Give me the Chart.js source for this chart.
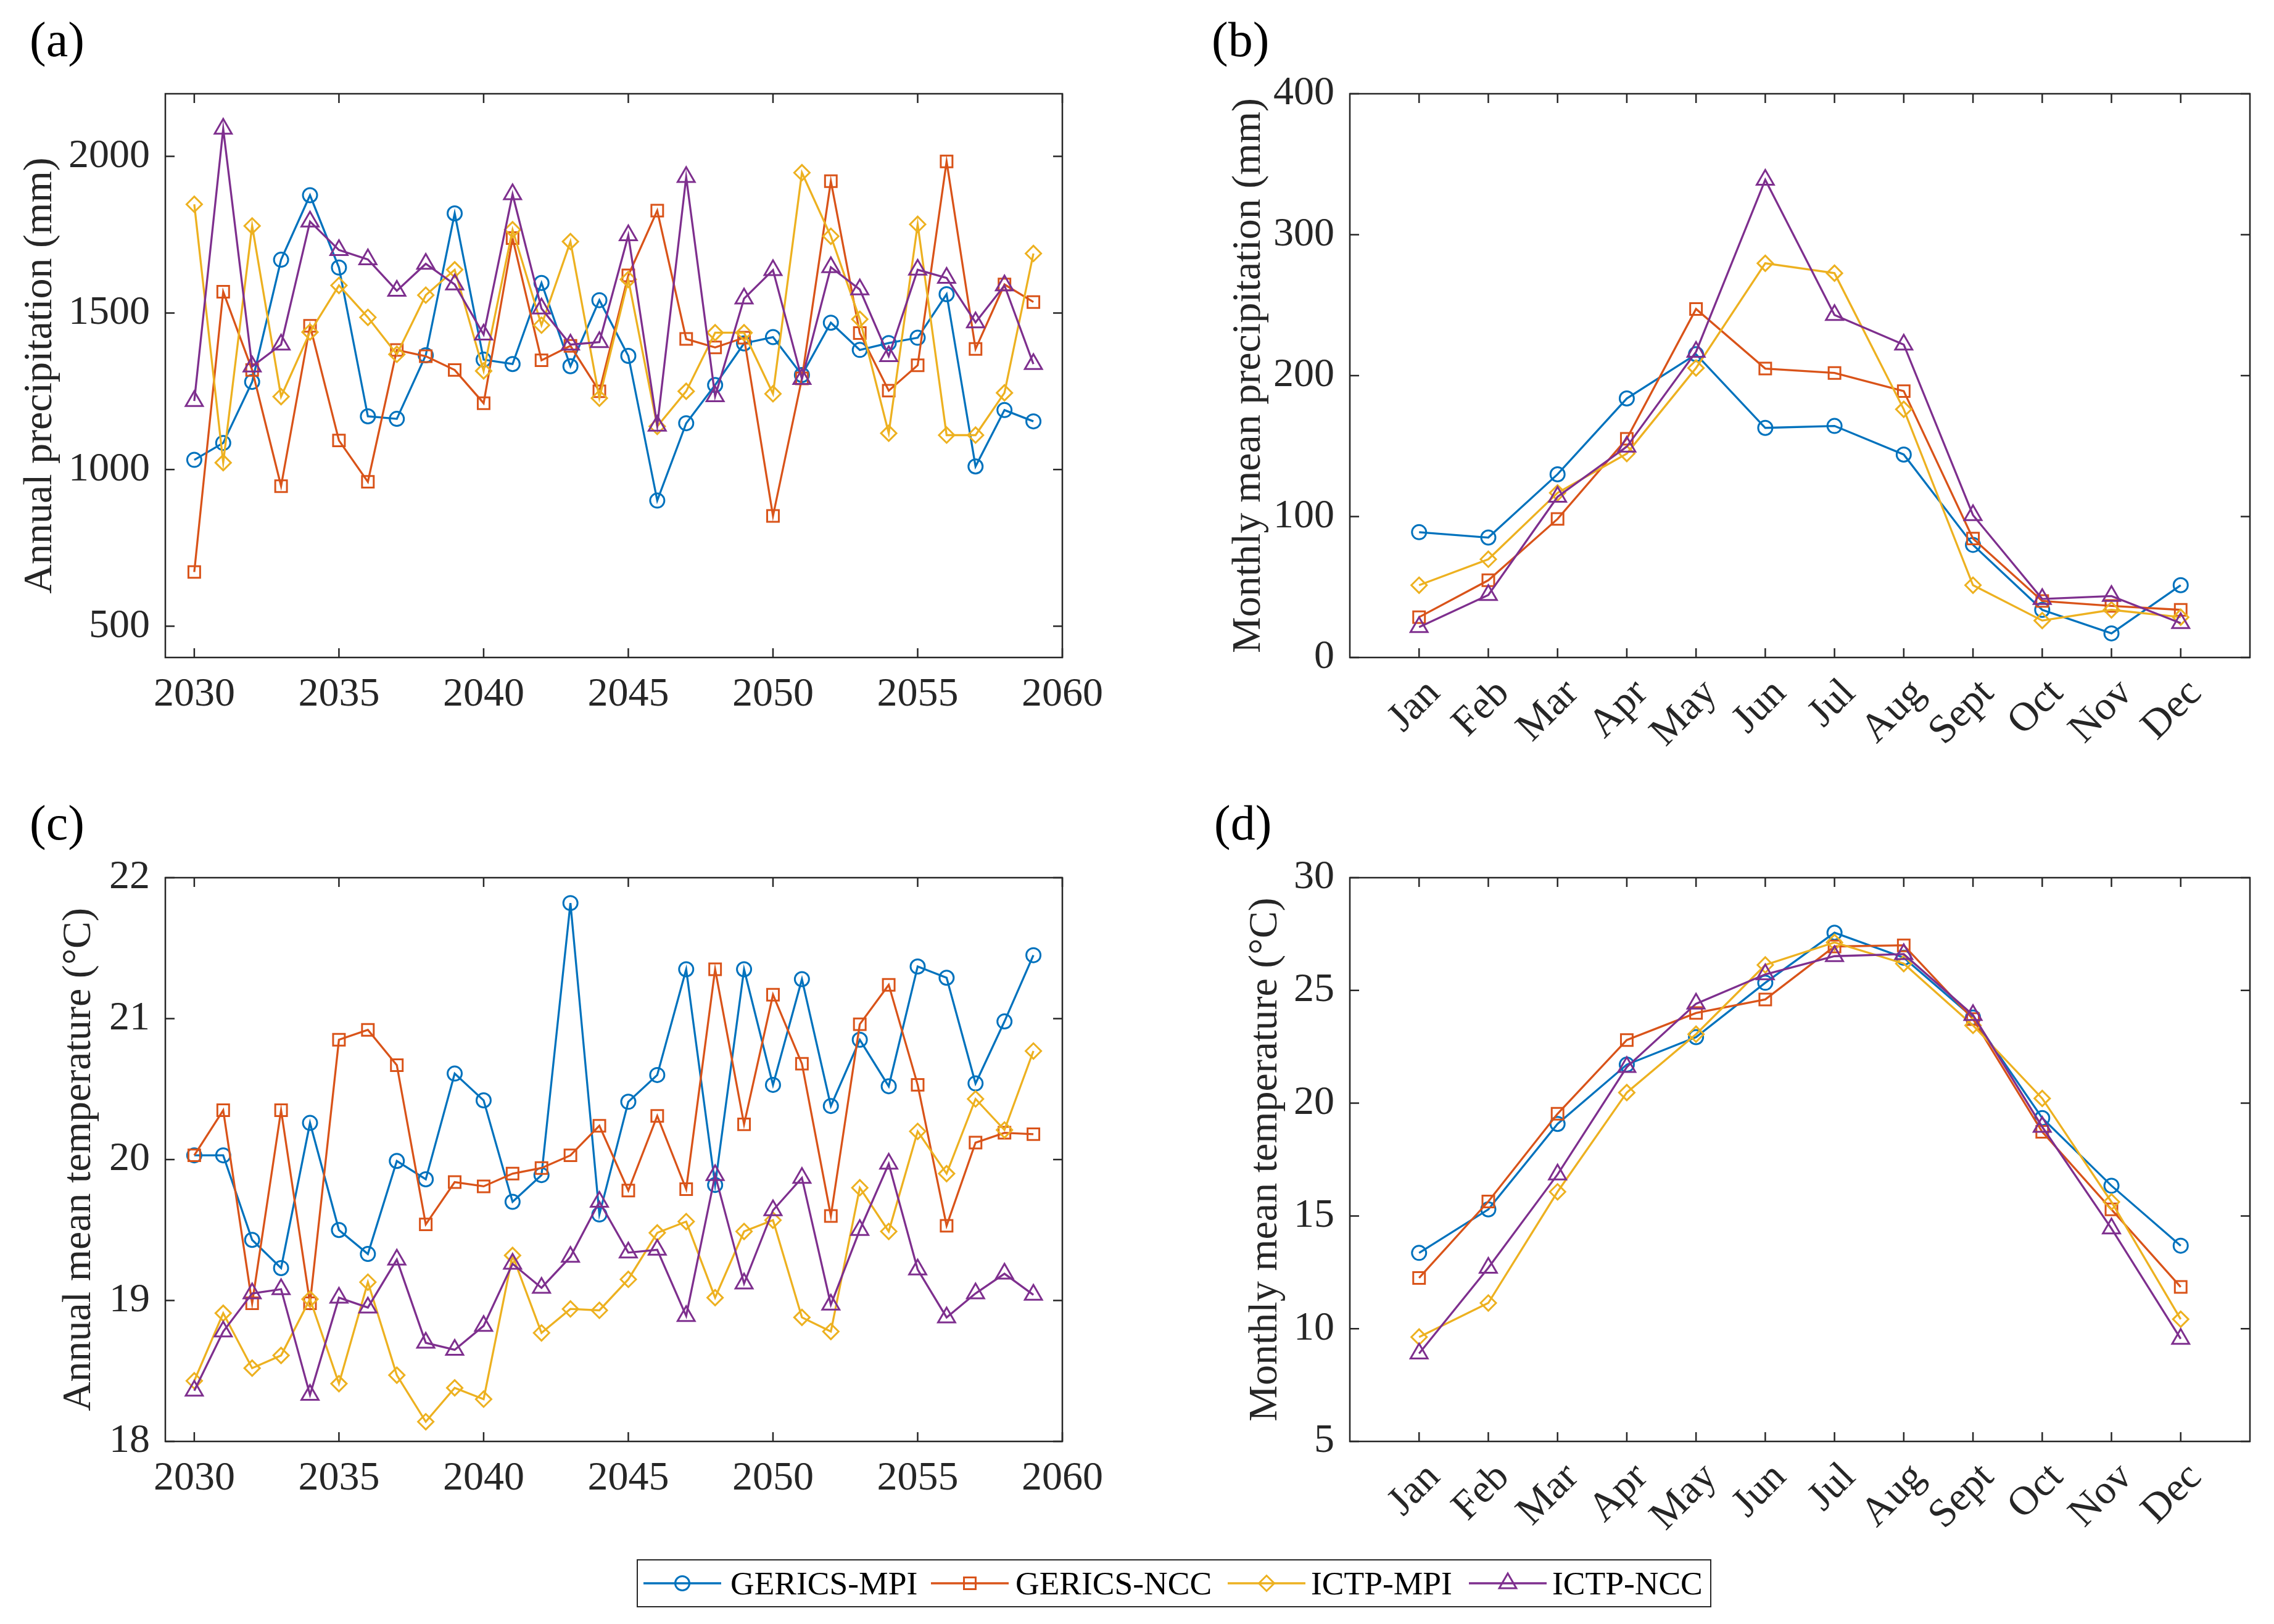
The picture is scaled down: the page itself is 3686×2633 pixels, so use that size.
<!DOCTYPE html>
<html>
<head>
<meta charset="utf-8">
<script src="https://cdn.jsdelivr.net/npm/chart.js@4.4.1/dist/chart.umd.min.js"></script>
<style>
html,body{margin:0;padding:0;background:#fff;}
body{width:3686px;height:2633px;position:relative;overflow:hidden;font-family:'Liberation Serif','Times New Roman',serif;}
canvas{position:absolute;}
.plabel{position:absolute;font-size:80px;line-height:80px;color:#000;white-space:nowrap;}
#legend{position:absolute;left:1032px;top:2528px;width:1742px;height:78px;border:2px solid #262626;box-sizing:border-box;background:#fff;}
.ls{position:absolute;top:17px;}
.lt{position:absolute;top:0;font-size:53.5px;line-height:74px;color:#000;white-space:nowrap;}
</style>
</head>
<body>
<div class="plabel" style="left:48px;top:24px">(a)</div>
<div class="plabel" style="left:1964px;top:24px">(b)</div>
<div class="plabel" style="left:48px;top:1294px">(c)</div>
<div class="plabel" style="left:1968px;top:1294px">(d)</div>

<canvas id="cA" width="1783" height="1216" style="left:26px;top:0px;width:1783px;height:1216px"></canvas>
<canvas id="cB" width="1701" height="1266" style="left:1985px;top:0px;width:1701px;height:1266px"></canvas>
<canvas id="cC" width="1720" height="1216" style="left:89px;top:1271px;width:1720px;height:1216px"></canvas>
<canvas id="cD" width="1674" height="1266" style="left:2012px;top:1271px;width:1674px;height:1266px"></canvas>

<div id="legend">
  <canvas class="ls" id="lg0" width="126" height="40" style="left:9px;width:126px;height:40px"></canvas>
  <span class="lt" style="left:150px">GERICS-MPI</span>
  <canvas class="ls" id="lg1" width="126" height="40" style="left:475px;width:126px;height:40px"></canvas>
  <span class="lt" style="left:612px">GERICS-NCC</span>
  <canvas class="ls" id="lg2" width="126" height="40" style="left:956px;width:126px;height:40px"></canvas>
  <span class="lt" style="left:1091px">ICTP-MPI</span>
  <canvas class="ls" id="lg3" width="126" height="40" style="left:1347px;width:126px;height:40px"></canvas>
  <span class="lt" style="left:1482px">ICTP-NCC</span>
</div>

<script>
// ---------------- DATA ----------------
const years = [2030,2031,2032,2033,2034,2035,2036,2037,2038,2039,2040,2041,2042,2043,2044,2045,2046,2047,2048,2049,2050,2051,2052,2053,2054,2055,2056,2057,2058,2059];
const yearTicks = [2030,2035,2040,2045,2050,2055,2060];
const monthPos = [1,2,3,4,5,6,7,8,9,10,11,12];
const monthLabels = ['Jan','Feb','Mar','Apr','May','Jun','Jul','Aug','Sept','Oct','Nov','Dec'];
const seriesNames = ['GERICS-MPI','GERICS-NCC','ICTP-MPI','ICTP-NCC'];

// (a) Annual precipitation (mm)
const precipAnnual_GERICS_MPI = [1031,1085,1280,1670,1876,1645,1170,1162,1365,1818,1351,1337,1596,1330,1541,1363,901,1148,1270,1403,1423,1302,1469,1382,1404,1421,1560,1010,1190,1154];
const precipAnnual_GERICS_NCC = [673,1568,1318,947,1459,1093,961,1382,1362,1318,1212,1739,1349,1395,1250,1620,1827,1417,1390,1421,852,1291,1921,1436,1252,1333,1984,1385,1591,1535];
const precipAnnual_ICTP_MPI   = [1847,1022,1778,1233,1439,1588,1486,1368,1557,1638,1315,1766,1461,1728,1228,1607,1138,1250,1437,1437,1242,1948,1745,1480,1116,1783,1110,1110,1245,1690];
const precipAnnual_ICTP_NCC   = [1219,2088,1329,1399,1792,1701,1671,1571,1657,1591,1431,1879,1514,1399,1407,1748,1140,1934,1234,1546,1637,1289,1646,1575,1362,1638,1612,1470,1588,1337];
const precipAnnualTicks = [500,1000,1500,2000];

// (b) Monthly mean precipitation (mm)
const precipMonthly_GERICS_MPI = [88.9,85.1,130,183.8,215.2,162.9,164.3,144,79.9,33.8,17.1,51.3];
const precipMonthly_GERICS_NCC = [28.6,54.8,98.3,155.2,247.3,205,201.9,189,84.4,40.1,36.6,33.8];
const precipMonthly_ICTP_MPI   = [51.3,69.7,116.8,144.7,205.4,279.7,272.7,176.1,51.3,26.2,33.8,28.6];
const precipMonthly_ICTP_NCC   = [21.6,44.3,114,149.6,216.9,339,243,222,101,41.5,43.6,24.4];
const precipMonthlyTicks = [0,100,200,300,400];

// (c) Annual mean temperature (°C)
const tempAnnual_GERICS_MPI = [20.03,20.03,19.43,19.23,20.26,19.50,19.33,19.99,19.86,20.61,20.42,19.70,19.89,21.82,19.61,20.41,20.60,21.35,19.82,21.35,20.53,21.28,20.38,20.85,20.52,21.37,21.29,20.54,20.98,21.45];
const tempAnnual_GERICS_NCC = [20.03,20.35,18.98,20.35,18.98,20.85,20.92,20.67,19.54,19.84,19.81,19.90,19.94,20.03,20.24,19.78,20.31,19.79,21.35,20.25,21.17,20.68,19.60,20.96,21.24,20.53,19.53,20.12,20.19,20.18];
const tempAnnual_ICTP_MPI   = [18.43,18.91,18.52,18.61,19.01,18.41,19.13,18.47,18.14,18.38,18.30,19.32,18.77,18.94,18.93,19.15,19.48,19.56,19.02,19.49,19.57,18.88,18.78,19.80,19.49,20.20,19.90,20.43,20.21,20.77];
const tempAnnual_ICTP_NCC   = [18.36,18.78,19.05,19.08,18.33,19.02,18.95,19.29,18.70,18.65,18.82,19.26,19.09,19.31,19.70,19.34,19.36,18.89,19.89,19.12,19.64,19.87,18.97,19.50,19.97,19.22,18.88,19.05,19.19,19.04];
const tempAnnualTicks = [18,19,20,21,22];

// (d) Monthly mean temperature (°C)
const tempMonthly_GERICS_MPI = [13.36,15.29,19.08,21.71,22.93,25.34,27.56,26.45,23.80,19.34,16.34,13.68];
const tempMonthly_GERICS_NCC = [12.25,15.64,19.53,22.80,24.0,24.6,26.95,27.0,23.73,18.73,15.29,11.85];
const tempMonthly_ICTP_MPI   = [9.63,11.14,16.07,20.47,23.06,26.13,27.13,26.19,23.45,20.21,15.62,10.42];
const tempMonthly_ICTP_NCC   = [8.9,12.7,16.84,21.6,24.41,25.71,26.52,26.61,23.91,18.95,14.44,9.55];
const tempMonthlyTicks = [5,10,15,20,25,30];

// ---------------- STYLE ----------------
const AXIS_COLOR = '#262626';
const FONT_FAMILY = "'Liberation Serif', 'Times New Roman', serif";
const STYLES = [
  {color:'#0072BD', style:'circle',   radius:11.5, order:3},
  {color:'#D95319', style:'rect',     radius:13.4, order:2},
  {color:'#EDB120', style:'rectRot',  radius:12.5, order:1},
  {color:'#7E2F8E', style:'triangle', radius:16,   order:0}
];
Chart.defaults.font.family = FONT_FAMILY;
Chart.defaults.color = AXIS_COLOR;

const boxPlugin = {
  id: 'matlabBox',
  beforeDatasetsDraw(chart) {
    const {ctx, chartArea: a, scales} = chart;
    const x = scales.x, y = scales.y;
    const TL = 15;
    ctx.save();
    ctx.strokeStyle = AXIS_COLOR;
    ctx.lineWidth = 2.5;
    ctx.beginPath();
    x.ticks.forEach(t => {
      const px = x.getPixelForValue(t.value);
      ctx.moveTo(px, a.bottom); ctx.lineTo(px, a.bottom - TL);
      ctx.moveTo(px, a.top); ctx.lineTo(px, a.top + TL);
    });
    y.ticks.forEach(t => {
      const py = y.getPixelForValue(t.value);
      ctx.moveTo(a.left, py); ctx.lineTo(a.left + TL, py);
      ctx.moveTo(a.right, py); ctx.lineTo(a.right - TL, py);
    });
    ctx.stroke();
    ctx.beginPath();
    ctx.rect(a.left, a.top, a.right - a.left, a.bottom - a.top);
    ctx.stroke();
    ctx.restore();
  }
};

function makeDatasets(xs, seriesValues) {
  return seriesValues.map((vals, i) => ({
    label: seriesNames[i],
    data: xs.map((xv, j) => ({x: xv, y: vals[j]})),
    borderColor: STYLES[i].color,
    borderWidth: 3.3,
    pointStyle: STYLES[i].style,
    pointRadius: STYLES[i].radius,
    pointHoverRadius: STYLES[i].radius,
    pointBorderWidth: 3,
    pointBorderColor: STYLES[i].color,
    pointBackgroundColor: 'rgba(0,0,0,0)',
    fill: false,
    tension: 0,
    order: STYLES[i].order
  }));
}

function makeChart(id, o) {
  const monthly = o.monthly;
  return new Chart(document.getElementById(id), {
    type: 'line',
    data: { datasets: makeDatasets(monthly ? monthPos : years, o.series) },
    options: {
      responsive: false, animation: false, devicePixelRatio: 1, events: [],
      layout: { padding: { top: 152, right: o.padRight, bottom: 0, left: 0 } },
      plugins: { legend: { display: false }, tooltip: { enabled: false } },
      scales: {
        x: {
          type: 'linear',
          min: monthly ? 0 : 2029,
          max: monthly ? 13 : 2060,
          afterBuildTicks: s => { s.ticks = (monthly ? monthPos : yearTicks).map(v => ({value: v})); },
          afterFit: s => { s.height = o.xHeight; },
          grid: { display: false, drawTicks: false },
          border: { display: false },
          ticks: {
            autoSkip: false,
            maxRotation: monthly ? 45 : 0,
            minRotation: monthly ? 45 : 0,
            padding: monthly ? 20 : 21,
            labelOffset: monthly ? 24 : 0,
            font: { size: 66 },
            color: AXIS_COLOR,
            callback: (v) => monthly ? monthLabels[monthPos.indexOf(v)] : String(v)
          }
        },
        y: {
          type: 'linear',
          min: o.yMin, max: o.yMax,
          afterBuildTicks: s => { s.ticks = o.yTicks.map(v => ({value: v})); },
          afterFit: s => { s.width = o.yWidth; },
          grid: { display: false, drawTicks: false },
          border: { display: false },
          ticks: { padding: 25, font: { size: 66 }, color: AXIS_COLOR, callback: (v) => String(v) },
          title: { display: true, text: o.yTitle, font: { size: 66 }, padding: 0, color: AXIS_COLOR }
        }
      }
    },
    plugins: [boxPlugin]
  });
}

makeChart('cA', {
  monthly: false, series: [precipAnnual_GERICS_MPI, precipAnnual_GERICS_NCC, precipAnnual_ICTP_MPI, precipAnnual_ICTP_NCC],
  yMin: 400, yMax: 2200, yTicks: precipAnnualTicks, yTitle: 'Annual precipitation (mm)',
  yWidth: 242, padRight: 80, xHeight: 150
});
makeChart('cB', {
  monthly: true, series: [precipMonthly_GERICS_MPI, precipMonthly_GERICS_NCC, precipMonthly_ICTP_MPI, precipMonthly_ICTP_NCC],
  yMin: 0, yMax: 400, yTicks: precipMonthlyTicks, yTitle: 'Monthly mean precipitation (mm)',
  yWidth: 203, padRight: 39, xHeight: 200
});
makeChart('cC', {
  monthly: false, series: [tempAnnual_GERICS_MPI, tempAnnual_GERICS_NCC, tempAnnual_ICTP_MPI, tempAnnual_ICTP_NCC],
  yMin: 18, yMax: 22, yTicks: tempAnnualTicks, yTitle: 'Annual mean temperature (°C)',
  yWidth: 179, padRight: 80, xHeight: 150
});
makeChart('cD', {
  monthly: true, series: [tempMonthly_GERICS_MPI, tempMonthly_GERICS_NCC, tempMonthly_ICTP_MPI, tempMonthly_ICTP_NCC],
  yMin: 5, yMax: 30, yTicks: tempMonthlyTicks, yTitle: 'Monthly mean temperature (°C)',
  yWidth: 176, padRight: 39, xHeight: 200
});

// Legend samples (line + marker)
STYLES.forEach((s, i) => {
  const cv = document.getElementById('lg' + i);
  const ctx = cv.getContext('2d');
  const w = cv.width, h = cv.height;
  ctx.strokeStyle = s.color;
  ctx.lineWidth = 3.3;
  ctx.beginPath(); ctx.moveTo(0, h / 2); ctx.lineTo(w, h / 2); ctx.stroke();
  ctx.fillStyle = 'rgba(0,0,0,0)';
  ctx.lineWidth = 3;
  if (Chart.helpers && Chart.helpers.drawPoint) {
    Chart.helpers.drawPoint(ctx, {pointStyle: s.style, radius: s.radius, borderWidth: 3, rotation: 0}, w / 2, h / 2);
  } else {
    const r = s.radius, cx = w / 2, cy = h / 2;
    ctx.beginPath();
    if (s.style === 'circle') ctx.arc(cx, cy, r, 0, Math.PI * 2);
    else if (s.style === 'rect') { const q = r * Math.SQRT1_2; ctx.rect(cx - q, cy - q, 2 * q, 2 * q); }
    else if (s.style === 'rectRot') { ctx.moveTo(cx, cy - r); ctx.lineTo(cx + r, cy); ctx.lineTo(cx, cy + r); ctx.lineTo(cx - r, cy); ctx.closePath(); }
    else { ctx.moveTo(cx, cy - r); ctx.lineTo(cx + r * 0.866, cy + r / 2); ctx.lineTo(cx - r * 0.866, cy + r / 2); ctx.closePath(); }
    ctx.stroke();
  }
});
</script>
</body>
</html>
